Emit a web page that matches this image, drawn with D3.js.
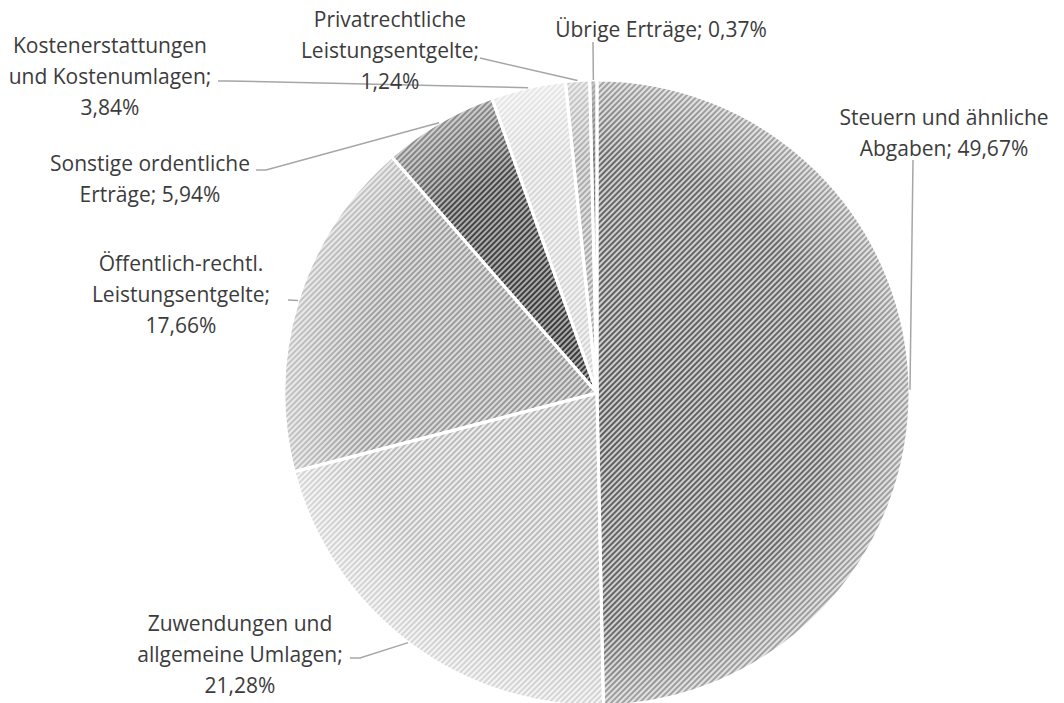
<!DOCTYPE html>
<html>
<head>
<meta charset="utf-8">
<script src="https://cdn.jsdelivr.net/npm/d3@7"></script>
<style>
  html, body { margin: 0; padding: 0; background: #fff; }
  svg text { font-family: "Open Sans", "Noto Sans", sans-serif; font-size: 21px; fill: #3c3c3c; }
</style>
</head>
<body>
<svg id="chart" width="1064" height="703"></svg>
<script>
/* ---- data ---- */
const categories = [
  "Steuern und ähnliche Abgaben",
  "Zuwendungen und allgemeine Umlagen",
  "Öffentlich-rechtl. Leistungsentgelte",
  "Sonstige ordentliche Erträge",
  "Kostenerstattungen und Kostenumlagen",
  "Privatrechtliche Leistungsentgelte",
  "Übrige Erträge"
];
const values = [49.67, 21.28, 17.66, 5.94, 3.84, 1.24, 0.37];
const labelLines = [
  ["Steuern und ähnliche", "Abgaben; 49,67%"],
  ["Zuwendungen und", "allgemeine Umlagen;", "21,28%"],
  ["Öffentlich-rechtl.", "Leistungsentgelte;", "17,66%"],
  ["Sonstige ordentliche", "Erträge; 5,94%"],
  ["Kostenerstattungen", "und Kostenumlagen;", "3,84%"],
  ["Privatrechtliche", "Leistungsentgelte;", "1,24%"],
  ["Übrige Erträge; 0,37%"]
];

/* ---- layout ---- */
const cx = 597, cy = 393, R = 313, lineH = 31;
// label block: centre x, first line centre y; leader start points
const labelLayout = [
  { x: 944, y: 118, lead: [[913, 160]] },
  { x: 240, y: 624, lead: [[350, 658], [360, 658]] },
  { x: 181, y: 264, lead: [[288, 300]] },
  { x: 150, y: 164, lead: [[256, 170], [266, 170]] },
  { x: 110, y: 46,  lead: [[218, 81], [228, 81]] },
  { x: 390, y: 20,  lead: [[480, 58]] },
  { x: 661, y: 30,  lead: [[593, 42]] }
];
const stripes = [
  { bg: "#cdcdcd", fg: "#5c5c5c" },
  { bg: "#ededed", fg: "#b8b8b8" },
  { bg: "#dadada", fg: "#969696" },
  { bg: "#a9a9a9", fg: "#363636" },
  { bg: "#f2f2f2", fg: "#d4d4d4" },
  { bg: "#dedede", fg: "#a6a6a6" },
  { bg: "#9a9a9a", fg: "#6a6a6a" }
];

const svg = d3.select("#chart");
const defs = svg.append("defs");

stripes.forEach((s, i) => {
  const p = defs.append("pattern").attr("id", "pat" + i)
    .attr("patternUnits", "userSpaceOnUse").attr("width", 4).attr("height", 4)
    .attr("patternTransform", "rotate(45)");
  p.append("rect").attr("width", 4).attr("height", 4).attr("fill", s.bg);
  p.append("rect").attr("width", 2).attr("height", 4).attr("fill", s.fg);
});

// soft light rim, like the office "shade" effect
const grad = defs.append("radialGradient").attr("id", "shade")
  .attr("gradientUnits", "userSpaceOnUse").attr("cx", 0).attr("cy", 0).attr("r", R);
grad.append("stop").attr("offset", 0).attr("stop-color", "#fff").attr("stop-opacity", 0);
grad.append("stop").attr("offset", 0.75).attr("stop-color", "#fff").attr("stop-opacity", 0.08);
grad.append("stop").attr("offset", 1).attr("stop-color", "#fff").attr("stop-opacity", 0.45);

const pie = d3.pie().sort(null).value(d => d);
const arcs = pie(values);
const arc = d3.arc().innerRadius(0).outerRadius(R);
const edge = d3.arc().innerRadius(R).outerRadius(R);

const g = svg.append("g").attr("transform", `translate(${cx},${cy})`);

g.selectAll("path.slice").data(arcs).enter().append("path")
  .attr("class", "slice").attr("d", arc)
  .attr("fill", (d, i) => `url(#pat${i})`);

g.selectAll("path.shade").data(arcs).enter().append("path")
  .attr("class", "shade").attr("d", arc)
  .attr("fill", "url(#shade)");

g.selectAll("path.border").data(arcs).enter().append("path")
  .attr("class", "border").attr("d", arc)
  .attr("fill", "none").attr("stroke", "#fff").attr("stroke-width", 3)
  .attr("stroke-linejoin", "round");

/* ---- leader lines ---- */
const line = d3.line();
svg.selectAll("path.leader").data(arcs).enter().append("path")
  .attr("class", "leader")
  .attr("d", (d, i) => {
    const c = edge.centroid(d);
    return line(labelLayout[i].lead.concat([[c[0] + cx, c[1] + cy]]));
  })
  .attr("fill", "none").attr("stroke", "#a6a6a6").attr("stroke-width", 1.5);

/* ---- labels ---- */
svg.selectAll("text.lbl").data(labelLines).enter().append("text")
  .attr("class", "lbl")
  .attr("text-anchor", "middle")
  .attr("x", (d, i) => labelLayout[i].x)
  .attr("y", (d, i) => labelLayout[i].y)
  .selectAll("tspan").data(d => d).enter().append("tspan")
  .attr("x", function () { return this.parentNode.getAttribute("x"); })
  .attr("dy", (d, j) => j === 0 ? "0.35em" : lineH)
  .text(d => d);
</script>
</body>
</html>
